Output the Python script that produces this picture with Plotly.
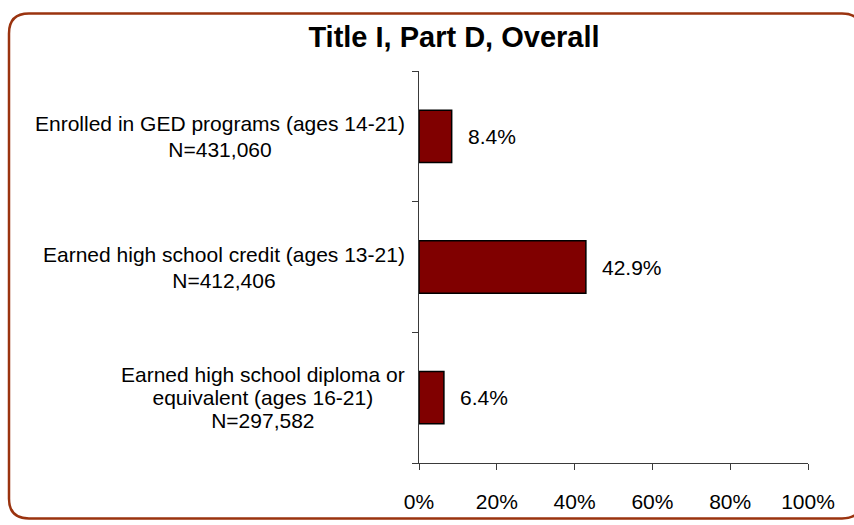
import plotly.graph_objects as go

# Outcome categories (top to bottom) and percentages
categories = [
    "Enrolled in GED programs (ages 14-21)<br>N=431,060",
    "Earned high school credit (ages 13-21)<br>N=412,406",
    "Earned high school diploma or<br>equivalent (ages 16-21)<br>N=297,582",
]
percentages = [8.4, 42.9, 6.4]
x_ticks = [0, 20, 40, 60, 80, 100]
x_tick_labels = ["0%", "20%", "40%", "60%", "80%", "100%"]

W, H = 854, 525
L, R, T, B = 419, 46, 71, 58
PW, PH = W - L - R, H - T - B


def px_to_paper(px, py):
    return (px - L) / PW, (H - B - py) / PH


def rounded_rect(x0, y0, x1, y1, r):
    def p(x, y):
        a, b = px_to_paper(x, y)
        return f"{a:.5f},{b:.5f}"
    return (
        f"M {p(x0 + r, y0)} L {p(x1 - r, y0)} Q {p(x1, y0)} {p(x1, y0 + r)} "
        f"L {p(x1, y1 - r)} Q {p(x1, y1)} {p(x1 - r, y1)} "
        f"L {p(x0 + r, y1)} Q {p(x0, y1)} {p(x0, y1 - r)} "
        f"L {p(x0, y0 + r)} Q {p(x0, y0)} {p(x0 + r, y0)} Z"
    )


FAMILY = "Liberation Sans, Arial, sans-serif"
font = dict(family=FAMILY, size=21, color="#000000")
axis_color = "#3a3a3a"

fig = go.Figure(
    go.Bar(
        x=percentages,
        y=categories,
        orientation="h",
        width=0.4,
        marker=dict(color="#800000", line=dict(color="#000000", width=1.5)),
        hoverinfo="skip",
    )
)

# value labels to the right of each bar
for cat, val in zip(categories, percentages):
    fig.add_annotation(
        x=val, y=cat, xref="x", yref="y", text=f"{val:.1f}%",
        showarrow=False, xanchor="left", xshift=14, font=font,
    )

# centred category labels left of the axis; the base size sets the line
# spacing while each line is drawn at full size
for cat in categories:
    lines = cat.split("<br>")
    text = "<br>".join(f'<span style="font-size:21px">{ln}</span>' for ln in lines)
    base = 20 if len(lines) == 2 else 17.5
    fig.add_annotation(
        x=0, y=cat, xref="paper", yref="y", text=text,
        showarrow=False, xanchor="right", align="center", xshift=-12,
        font=dict(family=FAMILY, size=base, color="#000000"),
    )

# rounded frame around the chart
fig.add_shape(
    type="path", xref="paper", yref="paper", layer="below",
    path=rounded_rect(9, 13, 862, 523, 20),
    line=dict(color="#9a330f", width=2.5),
)

fig.update_layout(
    width=W, height=H,
    margin=dict(l=L, r=R, t=T, b=B),
    paper_bgcolor="white", plot_bgcolor="white",
    showlegend=False,
    font=font,
    title=dict(
        text="<b>Title I, Part D, Overall</b>",
        x=454 / W, xanchor="center", y=1 - 37 / H, yanchor="middle",
        font=dict(family=FAMILY, size=29, color="#000000"),
    ),
    xaxis=dict(
        range=[0, 100], tickvals=x_ticks, ticktext=x_tick_labels,
        showgrid=False, zeroline=False,
        showline=True, linecolor=axis_color, linewidth=1,
        ticks="outside", ticklen=6, tickcolor=axis_color,
        ticklabelstandoff=14,
    ),
    yaxis=dict(
        categoryorder="array", categoryarray=categories[::-1],
        showgrid=False, zeroline=False, showticklabels=False,
        showline=True, linecolor=axis_color, linewidth=1,
        ticks="outside", ticklen=6, tickcolor=axis_color,
        tickson="boundaries",
    ),
)

fig.write_html("out.html")
